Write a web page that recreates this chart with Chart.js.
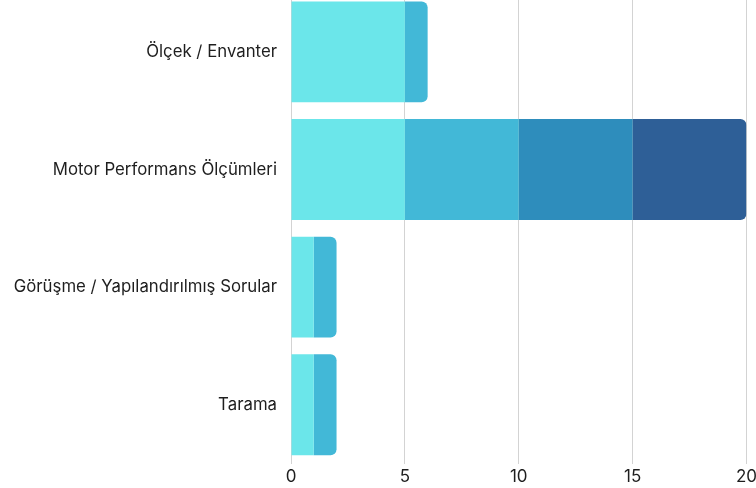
<!DOCTYPE html>
<html>
<head>
<meta charset="utf-8">
<script src="https://cdn.jsdelivr.net/npm/chart.js@4"></script>
<style>
  html, body { margin: 0; padding: 0; background: #fff; overflow: hidden; }
  /* canvas biraz daha büyük; üstteki ve sağdaki boşluk pencerenin dışına kayıyor */
  #wrap { width: 760px; height: 522px; margin-top: -31px; }
</style>
</head>
<body>
<div id="wrap"><canvas id="chart"></canvas></div>
<script>
    // Veriler
    var categories = ["Ölçek / Envanter", "Motor Performans Ölçümleri", "Görüşme / Yapılandırılmış Sorular", "Tarama"];
    var seri1 = [5, 5, 1, 1];
    var seri2 = [1, 5, 1, 1];
    var seri3 = [0, 5, 0, 0];
    var seri4 = [0, 5, 0, 0];
    var xTicks = [0, 5, 10, 15, 20];

    var colors = ["#6be6ea", "#42b8d7", "#2e8dbc", "#2e5f97"];

    var ctx = document.getElementById("chart").getContext("2d");
    var myChart = new Chart(ctx, {
        type: "bar",
        data: {
            labels: categories,
            datasets: [
                { label: "1", data: seri1, backgroundColor: colors[0] },
                { label: "2", data: seri2, backgroundColor: colors[1] },
                { label: "3", data: seri3, backgroundColor: colors[2] },
                { label: "4", data: seri4, backgroundColor: colors[3] }
            ]
        },
        options: {
            indexAxis: "y",
            responsive: true,
            maintainAspectRatio: false,
            animation: false,
            layout: { padding: { top: 0, right: 7, bottom: 1, left: 0 } },
            datasets: {
                bar: { categoryPercentage: 1, barPercentage: 0.858, borderRadius: 6, borderSkipped: "start" }
            },
            plugins: { legend: { display: false }, tooltip: { enabled: false } },
            scales: {
                x: {
                    stacked: true,
                    min: 0,
                    max: 20,
                    afterBuildTicks: function (scale) {
                        scale.ticks = xTicks.map(function (v) { return { value: v }; });
                    },
                    grid: { color: "#d3d3d3", drawTicks: false },
                    border: { display: false },
                    ticks: { color: "#1e1e1e", padding: 3, font: { family: "Inter", size: 17 } }
                },
                y: {
                    stacked: true,
                    afterFit: function (scale) { scale.width = 291; },
                    grid: { display: false, drawTicks: false },
                    border: { display: false },
                    ticks: { color: "#1e1e1e", padding: 14, font: { family: "Inter", size: 16.8 } }
                }
            }
        }
    });
</script>
</body>
</html>
